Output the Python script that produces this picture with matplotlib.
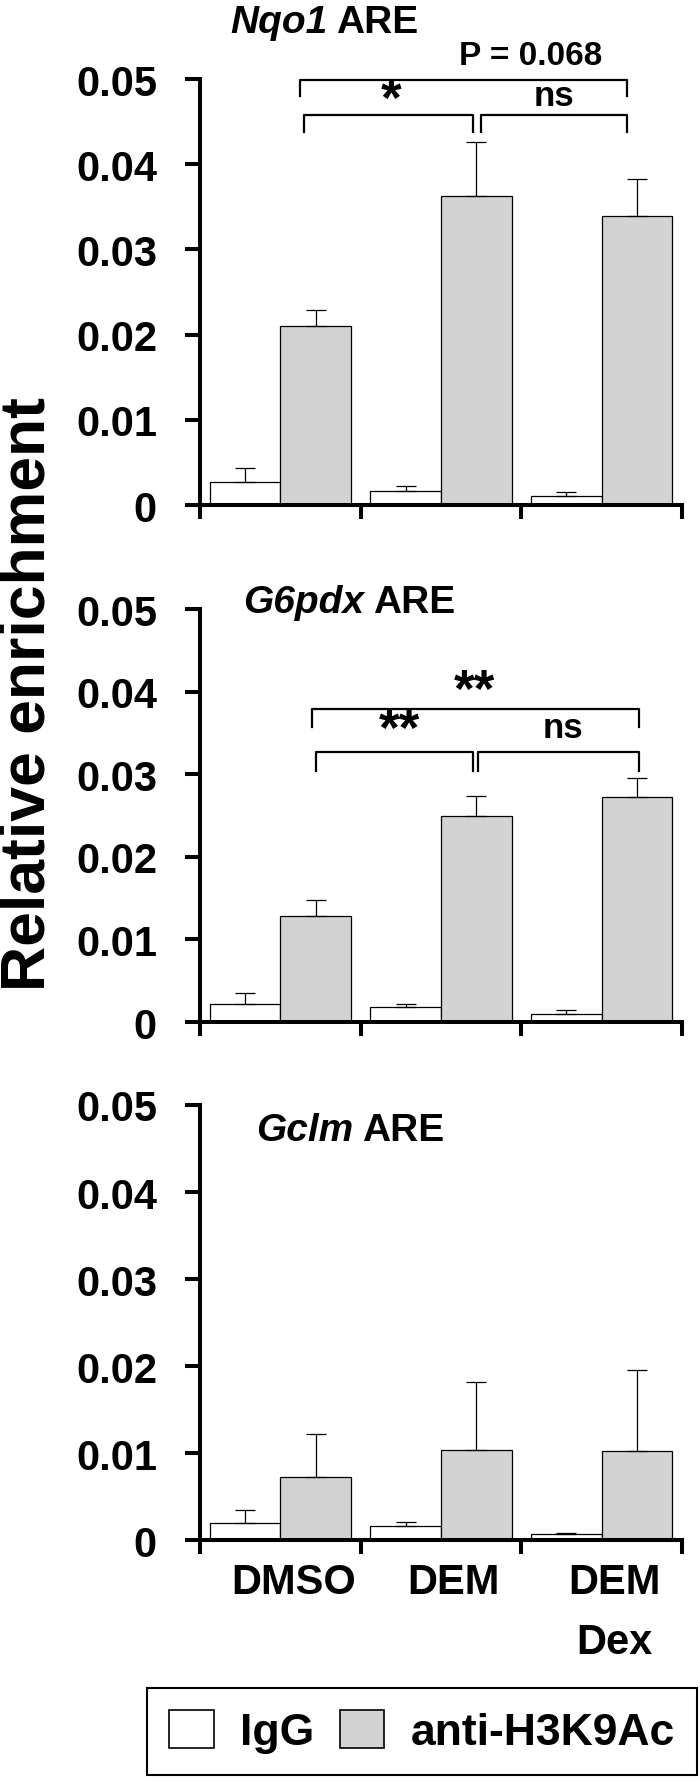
import matplotlib.pyplot as plt
from matplotlib.patches import Patch
import numpy as np

plt.rcParams["font.family"] = ["Liberation Sans", "DejaVu Sans"]
plt.rcParams["font.weight"] = "bold"

groups = ["DMSO", "DEM", "DEM\nDex"]
genes = ["Nqo1", "G6pdx", "Gclm"]

# IgG control
igg_nqo1 = [0.0027, 0.0017, 0.0010]
igg_nqo1_err = [0.0016, 0.0005, 0.0005]
igg_g6pdx = [0.0022, 0.0018, 0.0010]
igg_g6pdx_err = [0.0013, 0.0004, 0.0005]
igg_gclm = [0.0020, 0.0016, 0.0007]
igg_gclm_err = [0.0015, 0.0005, 0.00015]

# anti-H3K9Ac
ac_nqo1 = [0.0210, 0.0363, 0.0339]
ac_nqo1_err = [0.0019, 0.0063, 0.0044]
ac_g6pdx = [0.0129, 0.0250, 0.0272]
ac_g6pdx_err = [0.0019, 0.0024, 0.0023]
ac_gclm = [0.0072, 0.0103, 0.0102]
ac_gclm_err = [0.0050, 0.0079, 0.0093]

yticks = [0, 0.01, 0.02, 0.03, 0.04, 0.05]
ytick_labels = ["0", "0.01", "0.02", "0.03", "0.04", "0.05"]

GRAY = "#d3d3d3"
W = 0.44

fig = plt.figure(figsize=(7, 17.83), dpi=100)
axes_pos = [
    [0.2857, 0.7162, 0.6886, 0.2389],
    [0.2857, 0.4262, 0.6886, 0.2316],
    [0.2857, 0.1357, 0.6886, 0.2440],
]
panels = [
    (igg_nqo1, igg_nqo1_err, ac_nqo1, ac_nqo1_err),
    (igg_g6pdx, igg_g6pdx_err, ac_g6pdx, ac_g6pdx_err),
    (igg_gclm, igg_gclm_err, ac_gclm, ac_gclm_err),
]
# title left x (group units) and bottom y
title_pos = [(0.19, 0.0546), (0.27, 0.0487), (0.35, 0.0451)]


def bracket(ax, x0, x1, y, drop):
    ax.plot([x0, x0, x1, x1], [y - drop, y, y, y - drop], color="black",
            lw=1.6, clip_on=False, solid_joinstyle="round")


def note(ax, x, y, s, size=22):
    ax.text(x, y, s, ha="center", va="center", fontsize=size, clip_on=False)


axes = []
for k in range(3):
    ax = fig.add_axes(axes_pos[k])
    axes.append(ax)
    igg, igg_err, ac, ac_err = panels[k]
    x = np.arange(3)
    x_igg = x + 0.06 + W / 2
    x_ac = x + 0.06 + W * 1.5

    ax.bar(x_igg, igg, W, color="white", edgecolor="black", linewidth=0.9, zorder=2)
    ax.bar(x_ac, ac, W, color=GRAY, edgecolor="black", linewidth=0.9, zorder=2)
    ax.errorbar(x_igg, igg, yerr=[np.zeros(3), igg_err], fmt="none", ecolor="black",
                elinewidth=0.9, capsize=7, capthick=0.9, zorder=3)
    ax.errorbar(x_ac, ac, yerr=[np.zeros(3), ac_err], fmt="none", ecolor="black",
                elinewidth=0.9, capsize=7, capthick=0.9, zorder=3)

    ax.set_xlim(0, 3)
    ax.set_ylim(0, 0.05)
    ax.set_yticks(yticks, ytick_labels)
    ax.set_xticks([0, 1, 2, 3], ["", "", "", ""])
    for s in ["top", "right"]:
        ax.spines[s].set_visible(False)
    for s in ["left", "bottom"]:
        ax.spines[s].set_linewidth(2.9)
        ax.spines[s].set_capstyle("projecting")
    ax.tick_params(axis="y", direction="out", length=11, width=2.9, pad=20, labelsize=30)
    ax.tick_params(axis="x", direction="out", length=10, width=2.9)

    # title: italic gene name + ARE
    tx, ty = title_pos[k]
    t1 = ax.text(tx, ty, genes[k], fontsize=28, fontstyle="italic",
                 ha="left", va="bottom", clip_on=False)
    ax.annotate("ARE", xy=(1, 0), xycoords=t1, xytext=(6, 0),
                textcoords="offset points", fontsize=28, ha="left", va="bottom")

# x labels under the bottom panel
ax = axes[2]
for i, g in enumerate(groups):
    ax.annotate(g, xy=(i + 0.58, 0), xycoords=ax.get_xaxis_transform(),
                xytext=(0, -16), textcoords="offset points", ha="center", va="top",
                fontsize=30, linespacing=1.65)

# significance brackets
ax = axes[0]
bracket(ax, 0.62, 2.66, 0.0499, 0.0019)
bracket(ax, 0.65, 1.70, 0.0458, 0.0020)
bracket(ax, 1.75, 2.66, 0.0458, 0.0020)
note(ax, 1.19, 0.0474, "*", 38)
note(ax, 2.20, 0.0481, "ns", 25)
note(ax, 2.06, 0.0528, "P = 0.068", 24)

ax = axes[1]
bracket(ax, 0.70, 2.73, 0.0379, 0.0022)
bracket(ax, 0.72, 1.70, 0.0327, 0.0023)
bracket(ax, 1.73, 2.73, 0.0327, 0.0023)
note(ax, 1.71, 0.0400, "**", 38)
note(ax, 1.24, 0.0352, "**", 38)
note(ax, 2.26, 0.0357, "ns", 25)

fig.text(0.040, 0.611, "Relative enrichment", rotation=90, fontsize=45,
         ha="center", va="center")

handles = [Patch(facecolor="white", edgecolor="black", linewidth=1.2),
           Patch(facecolor=GRAY, edgecolor="black", linewidth=1.2)]
leg = fig.legend(handles, ["IgG", "anti-H3K9Ac"], ncol=2, loc="center",
                 bbox_to_anchor=(0.603, 0.0283), fontsize=32,
                 handlelength=1.0, handleheight=0.95, handletextpad=0.6,
                 columnspacing=0.56, borderpad=0.5, fancybox=False,
                 edgecolor="black", framealpha=1)
leg.get_frame().set_linewidth(1.5)

fig.savefig("out.png", dpi=100)
